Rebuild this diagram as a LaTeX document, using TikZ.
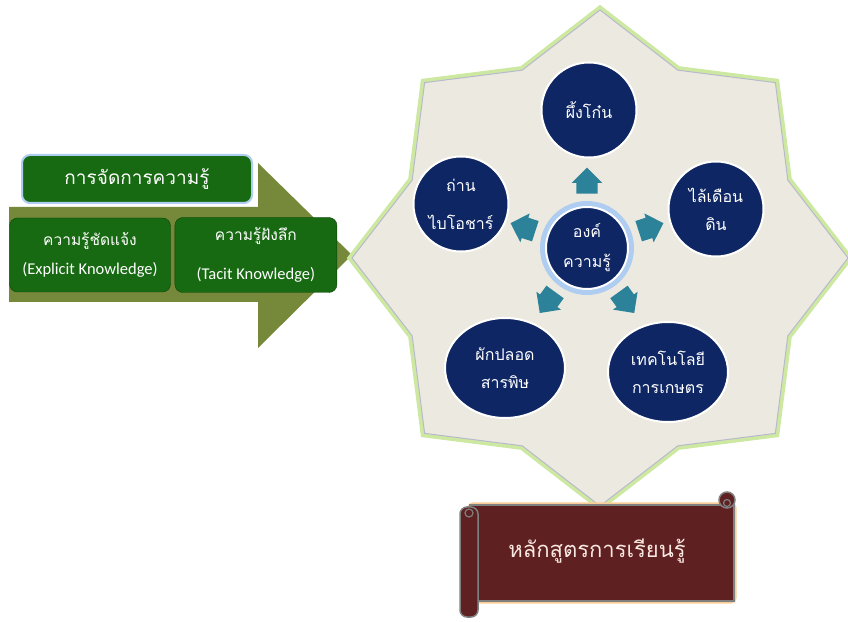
\documentclass[tikz,border=0pt]{standalone}
\usepackage{fontspec}
\setmainfont{Carlito}
\newfontfamily\thaifont[Script=Thai]{Loma}
\usetikzlibrary{positioning,shapes.arrows,shapes.geometric}
\definecolor{kmolive}{RGB}{118,137,58}
\definecolor{kmgreen}{RGB}{24,106,18}
\definecolor{kmnavy}{RGB}{14,38,100}
\definecolor{kmteal}{RGB}{44,130,152}
\definecolor{kmsand}{RGB}{236,234,224}
\definecolor{kmmaroon}{RGB}{94,32,32}
\definecolor{kmglowblue}{RGB}{175,205,240}
\definecolor{kmglowgreen}{RGB}{205,232,160}
\definecolor{kmstarline}{RGB}{185,185,205}
\definecolor{kmglowsand}{RGB}{250,205,150}
\definecolor{kmscrolltext}{RGB}{250,232,226}
\tikzset{km box/.style={rounded corners=8pt,fill=kmgreen,draw=kmgreen!60!black,text=white,align=center,inner sep=0pt},
         topic node/.style={circle,fill=kmnavy,draw=white,line width=2pt,text=white,align=center,inner sep=0pt,
                            minimum size=95pt,font=\thaifont\fontsize{16}{28}\selectfont},
         flat topic/.style={topic node,ellipse,minimum width=120pt,minimum height=100pt},
         hub arrow/.style={single arrow,fill=kmteal,inner xsep=0pt,inner ysep=10.5pt,minimum width=30pt,
                           minimum height=26pt,single arrow head extend=4.5pt},
            }
\newcommand{\kmthai}{\thaifont\fontsize{15.5}{29}\selectfont}

\begin{document}
\begin{tikzpicture}[x=1pt,y=1pt]
    \useasboundingbox (0,0) rectangle (848,621);
    % big olive arrow
    \fill[kmolive] (9,319) -- (258,319) -- (258,273) -- (352,366) -- (258,458) -- (258,414) -- (9,414) -- cycle;
    \node[km box,draw=kmglowblue,line width=2pt,minimum width=230pt,minimum height=48pt,
          font=\thaifont\fontsize{19}{24}\selectfont] (km) at (137,442) {การจัดการความรู้};
    \node[km box,minimum width=161pt,minimum height=74pt,font=\fontsize{16.5}{29}\selectfont] (explicit) at (90,366)
        {{\kmthai ความรู้ชัดแจ้ง}\\(Explicit Knowledge)};
    \node[km box,minimum width=162pt,minimum height=75pt,font=\fontsize{16.5}{29}\selectfont] (tacit) [right = 4pt of explicit]
        {{\kmthai ความรู้ฝังลึก}\\[10pt](Tacit Knowledge)};

    % star background
    \node[star,star points=8,star point ratio=1.22,minimum size=500pt,inner sep=0pt,
          draw=kmglowgreen,line width=5pt] at (600,363) {};
    \node[star,star points=8,star point ratio=1.22,minimum size=496pt,inner sep=0pt,
          fill=kmsand,draw=kmstarline,line width=1pt] (star) at (600,363) {};

    % knowledge hub and topics
    \fill[kmglowblue] (587,373) circle (47pt);
    \node[topic node,minimum size=82pt,font=\thaifont\fontsize{16}{30}\selectfont] (hub) at (587,373) {องค์\\ความรู้};
    \node[topic node] (bee) at (589,511) {ผึ้งโก๋น};
    \node[topic node] (biochar) at (461,417) {ถ่าน\\[10pt]ไบโอชาร์};
    \node[topic node] (worm) at (716,412) {ไล้เดือน\\ดิน};
    \node[flat topic] (veg) at (505,253) {ผักปลอด\\สารพิษ};
    \node[flat topic] (tech) at (668,249) {เทคโนโลยี\\การเกษตร};

    \foreach \a/\n in {90/ar1,162/ar2,18/ar3,234/ar4,306/ar5}
        \node[hub arrow,rotate=\a] (\n) at ([shift={(\a:62)}]hub.center) {};

    % scroll
    \draw[kmglowsand,line width=5pt,rounded corners=3pt]
        (470,116) -- (734,116) -- (734,20) -- (470,20) -- cycle;
    \draw[fill=kmmaroon,draw=gray,line width=1.5pt] (470,116) -- (734,116) -- (734,20) -- (470,20) -- cycle;
    \draw[fill=kmmaroon,draw=gray,line width=1.5pt,rounded corners=7pt] (460,4) rectangle (478,114);
    \draw[draw=gray,line width=1.2pt] (469,108) circle (4pt);
    \draw[fill=kmmaroon,draw=gray,line width=1.5pt] (727,121) circle (8pt);
    \draw[draw=gray,line width=1.2pt] (727,118) circle (3.5pt);
    \node[text=kmscrolltext,font=\thaifont\fontsize{22}{26}\selectfont] (course) at (597,70)
        {หลักสูตรการเรียนรู้};
\end{tikzpicture}
\end{document}
